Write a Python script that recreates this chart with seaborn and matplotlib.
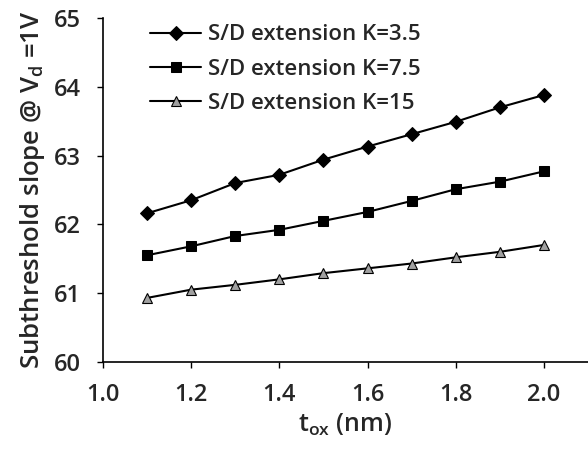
import numpy as np
import pandas as pd
import matplotlib
matplotlib.use("Agg")
import matplotlib.pyplot as plt
import seaborn as sns

# Oxide thickness (nm)
tox = [1.1, 1.2, 1.3, 1.4, 1.5, 1.6, 1.7, 1.8, 1.9, 2.0]

# Subthreshold slope (mV/dec) at Vd = 1 V for each S/D extension permittivity
ss_k35 = [62.16, 62.35, 62.60, 62.72, 62.94, 63.13, 63.31, 63.49, 63.70, 63.88]
ss_k75 = [61.55, 61.68, 61.83, 61.92, 62.05, 62.18, 62.34, 62.51, 62.62, 62.77]
ss_k15 = [60.93, 61.05, 61.12, 61.20, 61.29, 61.36, 61.43, 61.52, 61.60, 61.70]

labels = ["S/D extension K=3.5", "S/D extension K=7.5", "S/D extension K=15"]

x_ticks = [1.0, 1.2, 1.4, 1.6, 1.8, 2.0]
y_ticks = [60, 61, 62, 63, 64, 65]

sns.set_style("white")
plt.rcParams["font.family"] = ["Open Sans", "DejaVu Sans"]
plt.rcParams["font.weight"] = "semibold"
plt.rcParams["mathtext.fontset"] = "custom"
plt.rcParams["mathtext.rm"] = "Open Sans:semibold"
plt.rcParams["mathtext.it"] = "Open Sans:semibold"
plt.rcParams["mathtext.default"] = "rm"

fig = plt.figure(figsize=(5.88, 4.49), dpi=100)
ax = fig.add_axes([0.175, 0.194, 0.825, 0.766])

styles = [
    dict(marker="D", markersize=7, markerfacecolor="black", markeredgecolor="black"),
    dict(marker="s", markersize=7.5, markerfacecolor="black", markeredgecolor="black"),
    dict(marker="^", markersize=7.5, markerfacecolor="#a0a0a0", markeredgecolor="black",
         markeredgewidth=0.8),
]

for vals, lab, st in zip([ss_k35, ss_k75, ss_k15], labels, styles):
    df = pd.DataFrame({"tox": tox, "ss": vals})
    sns.lineplot(data=df, x="tox", y="ss", ax=ax, color="black", linewidth=1.5,
                 label=lab, **st)

ax.set_xlim(1.0, 2.1)
ax.set_ylim(60, 65)
ax.set_xticks(x_ticks)
ax.set_xticklabels([f"{v:.1f}" for v in x_ticks])
ax.set_yticks(y_ticks)
ax.set_yticklabels([str(v) for v in y_ticks])

for s in ["top", "right"]:
    ax.spines[s].set_visible(False)
for s in ["left", "bottom"]:
    ax.spines[s].set_color("black")
    ax.spines[s].set_linewidth(1.2)

ax.tick_params(axis="both", which="major", labelsize=17, direction="out",
               length=4, width=1, color="black", left=True, bottom=True)
ax.tick_params(axis="x", pad=11)
ax.tick_params(axis="y", pad=12)

ax.set_xlabel(r"t$_{\mathregular{ox}}$ (nm)", fontsize=18, fontweight="semibold", labelpad=4)
ax.set_ylabel(r"Subthreshold slope @ V$_{\mathregular{d}}$ =1V", fontsize=18.5,
              fontweight="semibold", labelpad=5)

leg = ax.legend(loc="upper left", bbox_to_anchor=(0.07, 1.02), frameon=False,
                fontsize=16, handlelength=2.3, handletextpad=0.3, labelspacing=0.6,
                borderaxespad=0.2)

fig.savefig("out.png", dpi=100, facecolor="white")
